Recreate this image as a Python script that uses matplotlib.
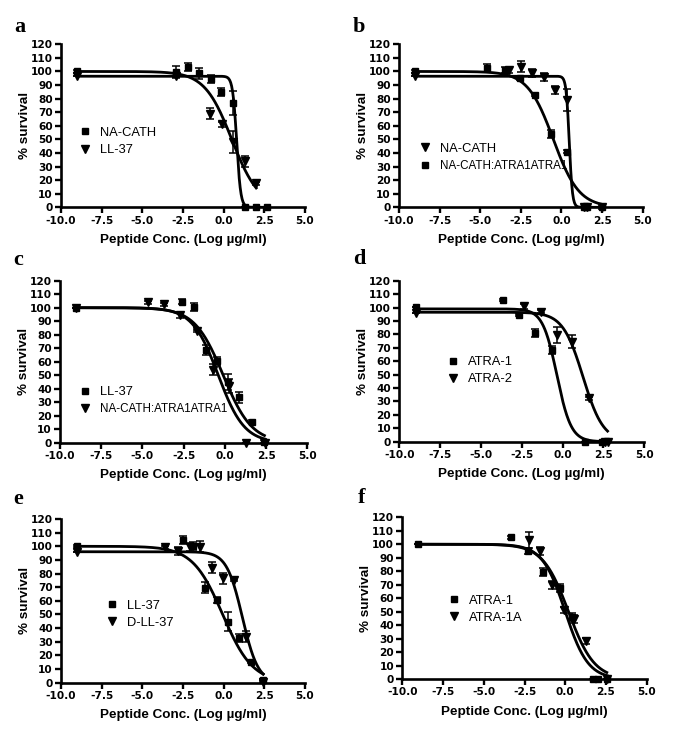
import numpy as np
import matplotlib
matplotlib.use("Agg")
import matplotlib.pyplot as plt

plt.rcParams['font.family'] = ['Liberation Sans', 'DejaVu Sans']

# ---- data ----
x_ticks = [-10.0, -7.5, -5.0, -2.5, 0.0, 2.5, 5.0]
x_tick_labels = ["-10.0", "-7.5", "-5.0", "-2.5", "0.0", "2.5", "5.0"]
y_ticks = list(range(0, 121, 10))

# panel a
a_nacath_x = [-9.0, -2.9, -2.2, -1.5, -0.8, -0.15, 0.6, 1.3, 2.0, 2.65]
a_nacath_y = [100, 99.8, 103, 98.7, 94.5, 84.7, 76.6, 0, 0, 0]
a_nacath_e = [1, 4, 3, 4, 3, 3, 9, 0, 0, 0]
a_ll37_x = [-9.0, -2.9, -0.85, -0.12, 0.6, 1.3, 2.0]
a_ll37_y = [97, 97, 69, 61, 48, 34, 17.6]
a_ll37_e = [0, 2, 4, 2, 8, 4, 1]
a_nacath_fit = (96.5, 0.8, 3.5)   # top, logIC50, hill
a_ll37_fit = (100, 0.5, 0.52)

# panel b
b_nacath_x = [-9.0, -3.2, -2.5, -1.8, -1.1, -0.4, 0.32, 1.4, 1.6, 2.5]
b_nacath_y = [97, 101, 103.5, 98.7, 96, 86.4, 79, 0, 0, 0]
b_nacath_e = [0, 2, 4, 3, 3, 3, 8, 0, 0, 0]
b_atra_x = [-9.0, -4.6, -3.5, -2.55, -1.63, -0.66, 0.36, 1.4, 1.55, 2.47]
b_atra_y = [100, 102.4, 101, 95, 82.7, 53.8, 41, 0, 0, 0]
b_atra_e = [1, 3, 2, 1, 1, 3, 1, 0, 0, 1]
b_nacath_fit = (96.5, 0.48, 4.5)
b_atra_fit = (100, -0.5, 0.55)

# panel c
c_ll37_x = [-9.0, -2.6, -1.9, -1.17, -0.5, 0.2, 0.87, 1.62, 2.4]
c_ll37_y = [100, 104.4, 100.5, 68.7, 60.5, 45, 33.6, 15.6, 0.7]
c_ll37_e = [0, 2, 3, 4, 3, 6, 4, 1, 1]
c_atra_x = [-9.0, -4.65, -3.67, -2.72, -1.7, -0.7, 0.25, 1.3, 2.45]
c_atra_y = [100, 104, 102.5, 94.6, 82.7, 54, 42, 0, 0]
c_atra_e = [0, 1, 1, 2, 1, 4, 5, 0, 0]
c_ll37_fit = (100, -0.1, 0.5)
c_atra_fit = (100, -0.4, 0.55)

# panel d
d_atra1_x = [-9.0, -3.67, -2.67, -1.69, -0.67, 1.36, 2.39]
d_atra1_y = [100.6, 105.6, 94.4, 80.8, 68.3, 0, 0]
d_atra1_e = [0, 1, 1, 3, 3, 0, 0]
d_atra2_x = [-9.0, -2.37, -1.34, -0.32, 0.56, 1.64, 2.59, 2.75]
d_atra2_y = [96, 101, 96.9, 79.5, 74.5, 32.3, 0, 0]
d_atra2_e = [0, 2, 1, 6, 5, 1, 0, 0]
d_atra1_fit = (99, -0.35, 1.0)
d_atra2_fit = (96.5, 1.25, 0.7)

# panel e
e_ll37_x = [-9.0, -2.52, -1.87, -1.15, -0.43, 0.28, 0.96, 1.66, 2.43]
e_ll37_y = [100.2, 104.4, 100.4, 69.7, 60.6, 44.7, 33, 15.4, 2]
e_ll37_e = [1, 3, 3, 4, 2, 7, 3, 1, 1]
e_dll37_x = [-9.0, -3.61, -2.79, -2.07, -1.46, -0.74, -0.06, 0.65, 1.35, 2.43]
e_dll37_y = [96, 99.2, 96.6, 99.7, 99.7, 84.3, 76.5, 75.3, 33.7, 0.7]
e_dll37_e = [0, 1, 3, 3, 4, 4, 4, 1, 4, 1]
e_ll37_fit = (100, -0.06, 0.47)
e_dll37_fit = (96, 1.15, 0.9)

# panel f
f_atra1_x = [-9.06, -3.33, -2.26, -1.38, -0.32, 0.39, 1.73, 2.0, 2.59]
f_atra1_y = [100.2, 105.2, 95, 79.6, 67.3, 46, 0, 0, 0]
f_atra1_e = [0, 1, 2, 3, 3, 3, 0, 0, 0]
f_atra1a_x = [-2.2, -1.55, -0.83, -0.07, 0.54, 1.28, 2.55]
f_atra1a_y = [103, 95, 69.8, 51.2, 44.5, 28.2, 0]
f_atra1a_e = [6, 3, 3, 2, 3, 2, 0]
f_atra1_fit = (100, 0.0, 0.62)
f_atra1a_fit = (100, 0.2, 0.55)


def logistic(x, top, x50, hill):
    return top / (1 + 10 ** (hill * (x - x50)))


def draw_series(ax, xs, ys, es, fit, marker, label):
    xs = np.array(xs)
    ax.errorbar(xs, ys, yerr=es, fmt='none', ecolor='black', elinewidth=1.1,
                capsize=2.8, capthick=1.1, clip_on=False, zorder=3)
    h, = ax.plot(xs, ys, linestyle='none', marker=marker, color='black',
                 markersize=5 if marker == 's' else 5.5, clip_on=False,
                 zorder=4, label=label)
    xx = np.linspace(-9.0, xs.max(), 400)
    ax.plot(xx, logistic(xx, *fit), color='black', lw=2.0, zorder=2)
    return h


def style_axes(ax):
    ax.set_xlim(-10, 5)
    ax.set_ylim(0, 120)
    ax.set_xticks(x_ticks)
    ax.set_xticklabels(x_tick_labels)
    ax.set_yticks(y_ticks)
    for s in ['top', 'right']:
        ax.spines[s].set_visible(False)
    for s in ['left', 'bottom']:
        ax.spines[s].set_linewidth(1.9)
    ax.tick_params(direction='out', length=4.5, width=1.7, pad=1.5)
    for t in ax.get_xticklabels() + ax.get_yticklabels():
        t.set_fontweight('bold')
        t.set_fontfamily('DejaVu Sans')
        t.set_fontsize(7.6)
    ax.set_xlabel("Peptide Conc. (Log µg/ml)", fontsize=9.7,
                  fontweight='bold', labelpad=6)
    ax.set_ylabel("% survival", fontsize=9.7, fontweight='bold', labelpad=0)


W, H = 685, 738
fig = plt.figure(figsize=(W / 100, H / 100), dpi=100)


def add_axes_px(left, right, top, bottom):
    return fig.add_axes([left / W, 1 - bottom / H, (right - left) / W,
                         (bottom - top) / H])


panels = [
    # (box px, letter, letter pos, series list, legend anchor)
    ((61, 305, 44.3, 207.3), 'a', (14, 32.3),
     [(a_nacath_x, a_nacath_y, a_nacath_e, a_nacath_fit, 's', 'NA-CATH'),
      (a_ll37_x, a_ll37_y, a_ll37_e, a_ll37_fit, 'v', 'LL-37')],
     (0.07, 0.404)),
    ((399, 642.7, 44.3, 207.3), 'b', (352.7, 32.3),
     [(b_nacath_x, b_nacath_y, b_nacath_e, b_nacath_fit, 'v', 'NA-CATH'),
      (b_atra_x, b_atra_y, b_atra_e, b_atra_fit, 's', 'NA-CATH:ATRA1ATRA1')],
     (0.078, 0.306)),
    ((60, 307.3, 280.7, 442.7), 'c', (13.3, 265),
     [(c_ll37_x, c_ll37_y, c_ll37_e, c_ll37_fit, 's', 'LL-37'),
      (c_atra_x, c_atra_y, c_atra_e, c_atra_fit, 'v', 'NA-CATH:ATRA1ATRA1')],
     (0.073, 0.259)),
    ((399.3, 644.3, 280.7, 441.7), 'd', (352.7, 264.3),
     [(d_atra1_x, d_atra1_y, d_atra1_e, d_atra1_fit, 's', 'ATRA-1'),
      (d_atra2_x, d_atra2_y, d_atra2_e, d_atra2_fit, 'v', 'ATRA-2')],
     (0.192, 0.44)),
    ((61, 305, 519, 682.7), 'e', (13.3, 504),
     [(e_ll37_x, e_ll37_y, e_ll37_e, e_ll37_fit, 's', 'LL-37'),
      (e_dll37_x, e_dll37_y, e_dll37_e, e_dll37_fit, 'v', 'D-LL-37')],
     (0.179, 0.418)),
    ((402.3, 646.7, 517.3, 679), 'f', (357.3, 503.3),
     [(f_atra1_x, f_atra1_y, f_atra1_e, f_atra1_fit, 's', 'ATRA-1'),
      (f_atra1a_x, f_atra1a_y, f_atra1a_e, f_atra1a_fit, 'v', 'ATRA-1A')],
     (0.183, 0.432)),
]

for box, letter, lpos, series, anchor in panels:
    ax = add_axes_px(*box)
    handles = [draw_series(ax, *s) for s in series]
    style_axes(ax)
    leg = ax.legend(handles=handles, loc='center left', bbox_to_anchor=anchor,
                    frameon=False, fontsize=9.3, handlelength=1.1,
                    handletextpad=0.6, labelspacing=0.4, borderpad=0,
                    borderaxespad=0)
    for t in leg.get_texts():
        if len(t.get_text()) > 10:
            t.set_fontsize(8.4)
    fig.text(lpos[0] / W, 1 - lpos[1] / H, letter, family='Liberation Serif',
             fontweight='bold', fontsize=16, ha='left', va='baseline')

fig.savefig("out.png", dpi=100)
